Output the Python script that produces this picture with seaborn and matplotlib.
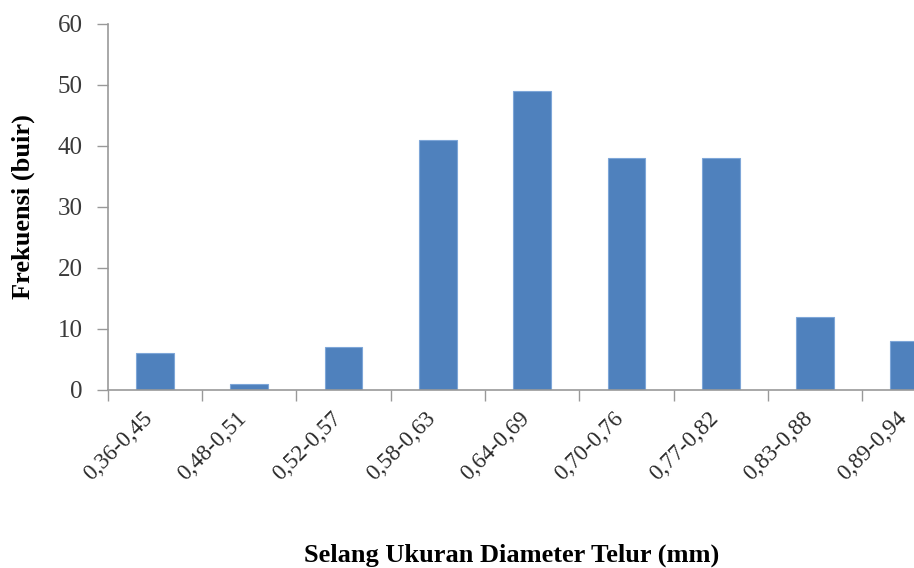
import numpy as np
import pandas as pd
import matplotlib
matplotlib.use("Agg")
import matplotlib.pyplot as plt
import seaborn as sns

# Egg diameter class intervals (mm) and their frequencies
intervals = ["0,36-0,45", "0,48-0,51", "0,52-0,57", "0,58-0,63", "0,64-0,69",
             "0,70-0,76", "0,77-0,82", "0,83-0,88", "0,89-0,94"]
frequencies = [6, 1, 7, 41, 49, 38, 38, 12, 8]

y_ticks = [0, 10, 20, 30, 40, 50, 60]

sns.set_theme(style="white")
plt.rcParams["font.family"] = ["Liberation Serif", "DejaVu Serif"]

df = pd.DataFrame({"interval": intervals, "freq": frequencies})

fig = plt.figure(figsize=(9.14, 5.68), dpi=100)
ax = fig.add_axes([0.118, 0.3134, 0.882, 0.6444])

sns.barplot(data=df, x="interval", y="freq", color="#4F81BD", width=0.4,
            saturation=1, edgecolor="#7EA6D8", linewidth=0.8, ax=ax)

ax.set_ylim(0, 60)
ax.set_xlim(-0.5, 8.05)
ax.set_yticks(y_ticks)
ax.set_yticklabels([str(v) for v in y_ticks], fontsize=18, color="#3a3a3a")

n = len(intervals)
# rotated labels sit slightly left of each category centre, so the last one fits
ax.set_xticks(np.arange(n) - 0.14)
ax.set_xticklabels(intervals, rotation=45, ha="right", rotation_mode="anchor",
                   fontsize=16.5, color="#2a2a2a")
ax.set_xticks(np.arange(n) - 0.5, minor=True)
ax.tick_params(axis="x", which="major", length=0, pad=13)
ax.tick_params(axis="x", which="minor", length=8, width=1, color="#999999",
               direction="out", bottom=True)
ax.tick_params(axis="y", length=8, width=1, color="#999999", direction="out",
               left=True, pad=10)

for side in ["top", "right"]:
    ax.spines[side].set_visible(False)
for side in ["left", "bottom"]:
    ax.spines[side].set_color("#999999")
    ax.spines[side].set_linewidth(1.2)

ax.set_xlabel("Selang Ukuran Diameter Telur (mm)", fontsize=19,
              fontweight="bold", color="black")
ax.xaxis.set_label_coords(0.501, -0.42)
ax.set_ylabel("Frekuensi (buir)", fontsize=19, fontweight="bold", color="black")
ax.yaxis.set_label_coords(-0.09, 0.5)

fig.savefig("out.png", dpi=100)
